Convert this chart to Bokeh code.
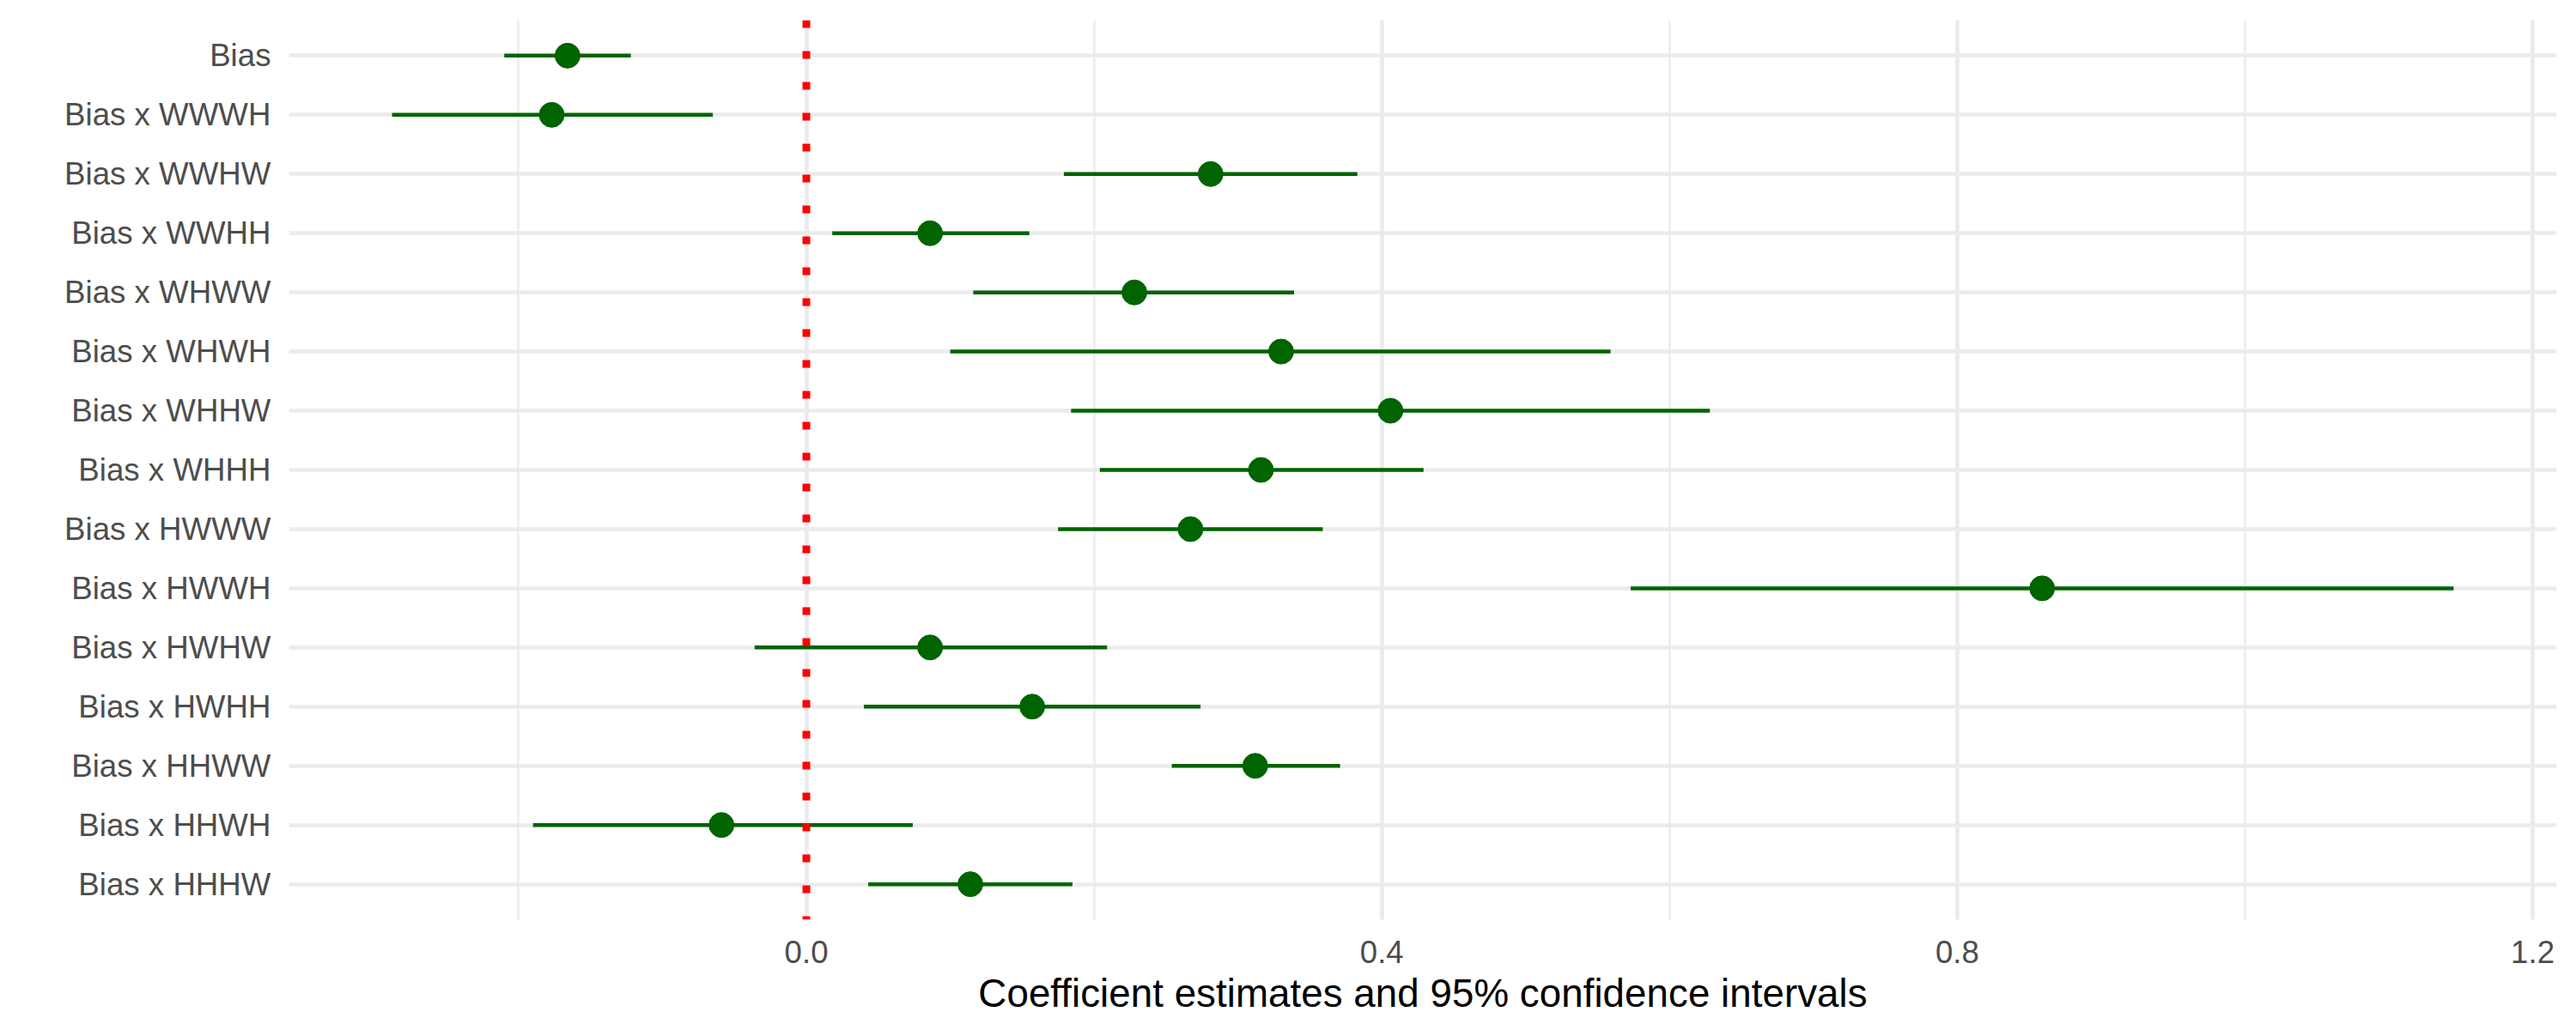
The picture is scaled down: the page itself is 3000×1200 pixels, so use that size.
from bokeh.plotting import figure
from bokeh.models import ColumnDataSource, Range1d, FixedTicker, Span
from bokeh.embed import file_html
from bokeh.resources import INLINE

# ---- data ----
terms = ["Bias", "Bias x WWWH", "Bias x WWHW", "Bias x WWHH", "Bias x WHWW",
         "Bias x WHWH", "Bias x WHHW", "Bias x WHHH", "Bias x HWWW", "Bias x HWWH",
         "Bias x HWHW", "Bias x HWHH", "Bias x HHWW", "Bias x HHWH", "Bias x HHHW"]
estimate = [-0.166, -0.177, 0.281, 0.086, 0.228, 0.330, 0.406, 0.316, 0.267, 0.859,
            0.086, 0.157, 0.312, -0.059, 0.114]
ci_low = [-0.210, -0.288, 0.179, 0.018, 0.116, 0.100, 0.184, 0.204, 0.175, 0.573,
          -0.036, 0.040, 0.254, -0.190, 0.043]
ci_high = [-0.122, -0.065, 0.383, 0.155, 0.339, 0.559, 0.628, 0.429, 0.359, 1.145,
           0.209, 0.274, 0.371, 0.074, 0.185]
x_ticks = [0.0, 0.4, 0.8, 1.2]
x_tick_labels = ["0.0", "0.4", "0.8", "1.2"]
x_minor_ticks = [-0.2, 0.2, 0.6, 1.0]
x_title = "Coefficient estimates and 95% confidence intervals"

n = len(terms)
ypos = [n - i for i in range(n)]  # first term on top

src = ColumnDataSource(dict(term=terms, y=ypos, est=estimate, lo=ci_low, hi=ci_high))

lo_all, hi_all = min(ci_low), max(ci_high)
pad = 0.05 * (hi_all - lo_all)

FONT = "Liberation Sans"
GRID = "#EBEBEB"
GREEN = "#006400"

p = figure(width=3000, height=1200, output_backend="svg", toolbar_location=None,
           x_range=Range1d(lo_all - pad, hi_all + pad),
           y_range=Range1d(0.4, n + 0.6),
           min_border_left=336, min_border_right=23, min_border_top=23,
           min_border_bottom=129)
p.outline_line_color = None
p.background_fill_color = "white"
p.border_fill_color = "white"

# grids
p.xgrid.ticker = FixedTicker(ticks=x_ticks, minor_ticks=x_minor_ticks)
p.xgrid.grid_line_color = GRID
p.xgrid.grid_line_width = 4.7
p.xgrid.minor_grid_line_color = GRID
p.xgrid.minor_grid_line_width = 2.4
p.ygrid.ticker = FixedTicker(ticks=ypos)
p.ygrid.grid_line_color = GRID
p.ygrid.grid_line_width = 4.7

# error bars and points
p.segment(x0="lo", x1="hi", y0="y", y1="y", source=src, line_color=GREEN,
          line_width=4.5, line_cap="butt")
p.scatter(x="est", y="y", source=src, size=29, fill_color=GREEN,
          line_color=GREEN, line_width=1)

# zero reference line
p.add_layout(Span(location=0, dimension="height", line_color="#FF0000",
                  line_width=9, line_dash="9 27", line_cap="butt"))

# axes
xa = p.xaxis[0]
xa.ticker = FixedTicker(ticks=x_ticks, minor_ticks=[])
xa.major_label_overrides = {t: l for t, l in zip(x_ticks, x_tick_labels)}
xa.axis_line_color = None
xa.major_tick_line_color = None
xa.minor_tick_line_color = None
xa.major_label_text_font = FONT
xa.major_label_text_font_size = "36.7px"
xa.major_label_text_color = "#4D4D4D"
xa.major_label_standoff = 18
xa.axis_label = x_title
xa.axis_label_text_font = FONT
xa.axis_label_text_font_size = "45.8px"
xa.axis_label_text_font_style = "normal"
xa.axis_label_text_color = "black"
xa.axis_label_standoff = 7

ya = p.yaxis[0]
ya.ticker = FixedTicker(ticks=ypos, minor_ticks=[])
ya.major_label_overrides = {y: t for y, t in zip(ypos, terms)}
ya.axis_line_color = None
ya.major_tick_line_color = None
ya.minor_tick_line_color = None
ya.major_label_text_font = FONT
ya.major_label_text_font_size = "36.7px"
ya.major_label_text_color = "#4D4D4D"
ya.major_label_standoff = 15

open("out.html", "w").write(file_html(p, INLINE))
